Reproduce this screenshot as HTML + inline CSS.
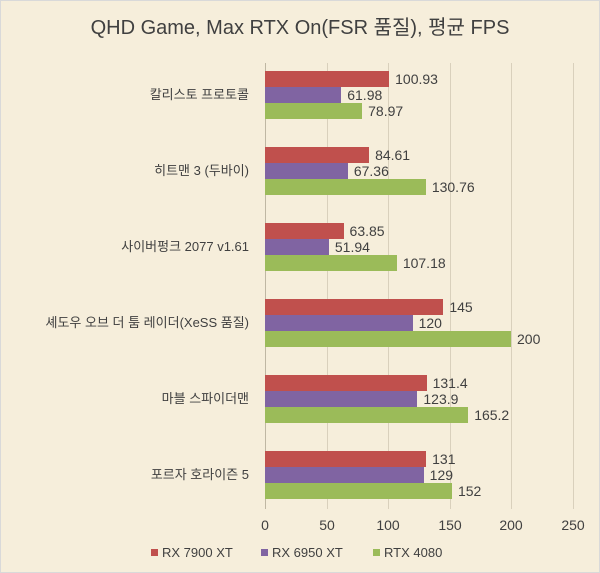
<!DOCTYPE html>
<html><head><meta charset="utf-8"><style>
body{margin:0;background:#fff}
.c{position:relative;width:598px;height:571px;border:1px solid #d9d9d9;background:#f6eedb;font-family:"Liberation Sans","Noto Sans CJK KR",sans-serif;color:#404040;overflow:hidden}
.t{position:absolute;left:0;right:0;top:10px;text-align:center;font-size:20px;color:#404040}
.g{position:absolute;top:62px;height:446px;width:1px;background:#d9d0bc}
.b{position:absolute;left:264px;height:16px}
.r{background:#c0504d}.p{background:#8064a2}.gr{background:#9bbb59}
.v{position:absolute;font-size:14px;line-height:16px}
.cat{position:absolute;right:350px;font-size:13px;text-align:right;white-space:nowrap;line-height:16px}
.x{position:absolute;top:516px;font-size:14px;width:40px;margin-left:-20px;text-align:center}
.lg{position:absolute;top:544px;font-size:13px;display:flex;align-items:center}
.lg i{display:inline-block;width:7px;height:7px;margin-right:4px}
</style></head><body><div class="c">
<div class="t">QHD Game, Max RTX On(FSR 품질), 평균 FPS</div>
<div class="g" style="left:264px;background:#bfb7a3"></div><div class="g" style="left:326px"></div><div class="g" style="left:387px"></div><div class="g" style="left:449px"></div><div class="g" style="left:510px"></div><div class="g" style="left:572px"></div>
<div id="bars"></div>
<div class="x" style="left:264px">0</div><div class="x" style="left:326px">50</div><div class="x" style="left:387px">100</div><div class="x" style="left:449px">150</div><div class="x" style="left:510px">200</div><div class="x" style="left:572px">250</div>
<div class="lg" style="left:150px"><i style="background:#c0504d"></i>RX 7900 XT</div>
<div class="lg" style="left:260px"><i style="background:#8064a2"></i>RX 6950 XT</div>
<div class="lg" style="left:372px"><i style="background:#9bbb59"></i>RTX 4080</div>
</div>
<script>
var d=[["칼리스토 프로토콜",[100.93,61.98,78.97]],["히트맨 3 (두바이)",[84.61,67.36,130.76]],["사이버펑크 2077 v1.61",[63.85,51.94,107.18]],["셰도우 오브 더 툼 레이더(XeSS 품질)",[145,120,200]],["마블 스파이더맨",[131.4,123.9,165.2]],["포르자 호라이즌 5",[131,129,152]]];
var h="",cl=["r","p","gr"];
d.forEach(function(g,i){var y=70+i*76;h+='<div class="cat" style="top:'+(y+16)+'px">'+g[0]+'</div>';
g[1].forEach(function(v,j){var w=v*1.23;h+='<div class="b '+cl[j]+'" style="top:'+(y+j*16)+'px;width:'+w+'px"></div><div class="v" style="top:'+(y+j*16)+'px;left:'+(264+w+6)+'px">'+v+'</div>';});});
document.getElementById("bars").outerHTML=h;
</script>
</body></html>
